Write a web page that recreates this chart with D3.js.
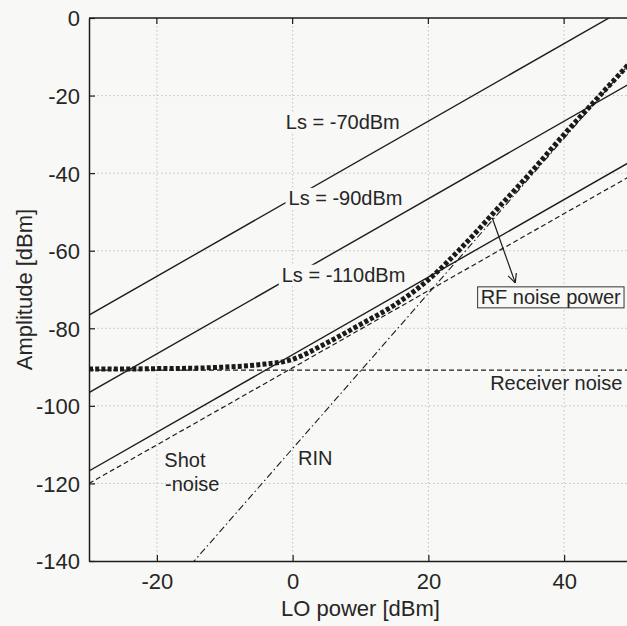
<!DOCTYPE html>
<html>
<head>
<meta charset="utf-8">
<script src="https://cdn.jsdelivr.net/npm/d3@7"></script>
<style>
  html, body { margin: 0; padding: 0; background: #f8f8f6; }
  svg { display: block; }
  text { font-family: "Liberation Sans", Arial, Helvetica, sans-serif; fill: #262626; }
</style>
</head>
<body>
<svg id="chart" width="627" height="626"></svg>
<script>
// ---------- data ----------
const xTicks = [-20, 0, 20, 40];
const yTicks = [0, -20, -40, -60, -80, -100, -120, -140];

// straight reference lines: values at LO power = -30 and 50 dBm
const lineX = [-30, 50];
const ls70 = [-76.6, 3.4];
const ls90 = [-96.6, -16.6];
const ls110 = [-116.8, -36.8];
const shotNoise = [-120.0, -40.5];
const receiverNoise = [-90.8, -90.8];

// RIN line (dash-dot)
const rinX = [-15, 50];
const rin = [-141, -11];

// RF noise power (thick dotted)
const loPower = [-30, -25, -20, -15, -10, -5, 0, 5, 10, 15, 20, 25, 30, 35, 40, 45, 50];
const rfNoise = [-90.5, -90.5, -90.4, -90.3, -90.0, -89.4, -88.0, -83.8, -79.0, -74.0, -67.5, -59.0, -49.5, -40.0, -30.0, -20.5, -11.0];

// ---------- layout ----------
const svg = d3.select("#chart");
const mLeft = 89, mRight = 632, mTop = 18, mBottom = 561;
const x = d3.scaleLinear().domain([-30, 50]).range([mLeft, mRight]);
const y = d3.scaleLinear().domain([-140, 0]).range([mBottom, mTop]);
const ink = "#1c1c1c";

svg.append("defs").append("clipPath").attr("id", "plotclip")
  .append("rect").attr("x", mLeft).attr("y", mTop).attr("width", mRight - mLeft).attr("height", mBottom - mTop);

// grid
const grid = svg.append("g");
grid.selectAll("line.gx").data(xTicks).join("line")
  .attr("x1", d => x(d)).attr("x2", d => x(d)).attr("y1", mTop).attr("y2", mBottom)
  .attr("stroke", "#c2c2c2").attr("stroke-width", 1).attr("stroke-dasharray", "1.5,2.5");
grid.selectAll("line.gy").data(yTicks.filter(d => d !== 0 && d !== -140)).join("line")
  .attr("x1", mLeft).attr("x2", mRight).attr("y1", d => y(d)).attr("y2", d => y(d))
  .attr("stroke", "#c2c2c2").attr("stroke-width", 1).attr("stroke-dasharray", "1.5,2.5");

// axes
const fmt = d => String(d);
const xAxis = d3.axisBottom(x).tickValues(xTicks).tickFormat(fmt).tickSizeInner(-6).tickSizeOuter(0).tickPadding(12);
const yAxis = d3.axisLeft(y).tickValues(yTicks).tickFormat(fmt).tickSizeInner(-6).tickSizeOuter(0).tickPadding(9);
const gx = svg.append("g").attr("transform", `translate(0,${mBottom})`).call(xAxis);
const gy = svg.append("g").attr("transform", `translate(${mLeft},0)`).call(yAxis);
[gx, gy].forEach(g => {
  g.select(".domain").attr("stroke", ink).attr("stroke-width", 1.5);
  g.selectAll(".tick line").attr("stroke", ink).attr("stroke-width", 1.2);
  g.selectAll(".tick text").attr("font-size", 22).attr("fill", "#262626")
    .attr("font-family", '"Liberation Sans", Arial, sans-serif');
});
gx.selectAll(".tick text").attr("dy", "0.71em");
gy.selectAll(".tick text").attr("dy", "0.36em");
// top ticks and top border
svg.append("line").attr("x1", mLeft).attr("x2", mRight).attr("y1", mTop).attr("y2", mTop)
  .attr("stroke", ink).attr("stroke-width", 1.5);
svg.selectAll("line.tt").data(xTicks).join("line")
  .attr("x1", d => x(d)).attr("x2", d => x(d)).attr("y1", mTop).attr("y2", mTop + 6)
  .attr("stroke", ink).attr("stroke-width", 1.2);

// axis labels
svg.append("text").attr("x", x(10)).attr("y", 616).attr("text-anchor", "middle")
  .attr("font-size", 22).text("LO power [dBm]");
svg.append("text").attr("transform", `translate(32,${(mTop + mBottom) / 2}) rotate(-90)`)
  .attr("text-anchor", "middle").attr("font-size", 22).text("Amplitude [dBm]");

// lines
const plot = svg.append("g").attr("clip-path", "url(#plotclip)");
const straight = (xs, ys) => d3.line().x((d, i) => x(xs[i])).y(d => y(d))(ys);

plot.append("path").attr("d", straight(lineX, receiverNoise)).attr("fill", "none")
  .attr("stroke", ink).attr("stroke-width", 1.2).attr("stroke-dasharray", "5,3");
plot.append("path").attr("d", straight(lineX, shotNoise)).attr("fill", "none")
  .attr("stroke", ink).attr("stroke-width", 1.2).attr("stroke-dasharray", "5,3");
plot.append("path").attr("d", straight(rinX, rin)).attr("fill", "none")
  .attr("stroke", ink).attr("stroke-width", 1.1).attr("stroke-dasharray", "7,3,1.5,3");
[ls70, ls90, ls110].forEach(v => {
  plot.append("path").attr("d", straight(lineX, v)).attr("fill", "none")
    .attr("stroke", ink).attr("stroke-width", 1.4);
});
plot.append("path")
  .attr("d", d3.line().x((d, i) => x(loPower[i])).y(d => y(d)).curve(d3.curveMonotoneX)(rfNoise))
  .attr("fill", "none").attr("stroke", "#1a1a1a").attr("stroke-width", 5).attr("stroke-dasharray", "4,2.2");

// annotations (positions in data coordinates)
const bg = "#f8f8f6";
function label(text, xv, yv, opts = {}) {
  const t = svg.append("text").attr("x", x(xv)).attr("y", y(yv)).attr("font-size", 20).text(text);
  if (opts.box || opts.bg) {
    const b = t.node().getBBox();
    svg.insert("rect", () => t.node())
      .attr("x", b.x - 3).attr("y", b.y + 1).attr("width", b.width + 6).attr("height", b.height - 1)
      .attr("fill", bg).attr("stroke", opts.box ? "#333" : "none").attr("stroke-width", 1);
  }
  return t;
}
label("Ls = -70dBm", -1.0, -28.6, { bg: true });
label("Ls = -90dBm", -0.6, -48.2, { bg: true });
label("Ls = -110dBm", -1.6, -68.0, { bg: true });
label("Receiver noise", 29.1, -95.8);
label("Shot", -18.9, -115.7);
label("-noise", -18.8, -122.0);
label("RIN", 0.8, -115.2);

// arrow to RF label
const ax0 = x(29.4), ay0 = y(-51.5), ax1 = x(32.8), ay1 = y(-68.3);
svg.append("line").attr("x1", ax0).attr("y1", ay0).attr("x2", ax1).attr("y2", ay1)
  .attr("stroke", ink).attr("stroke-width", 1.2);
const ang = Math.atan2(ay1 - ay0, ax1 - ax0);
[0.45, -0.45].forEach(da => {
  svg.append("line").attr("x1", ax1).attr("y1", ay1)
    .attr("x2", ax1 - 10 * Math.cos(ang + da)).attr("y2", ay1 - 10 * Math.sin(ang + da))
    .attr("stroke", ink).attr("stroke-width", 1.2);
});
label("RF noise power", 27.7, -73.7, { box: true });
</script>
</body>
</html>
